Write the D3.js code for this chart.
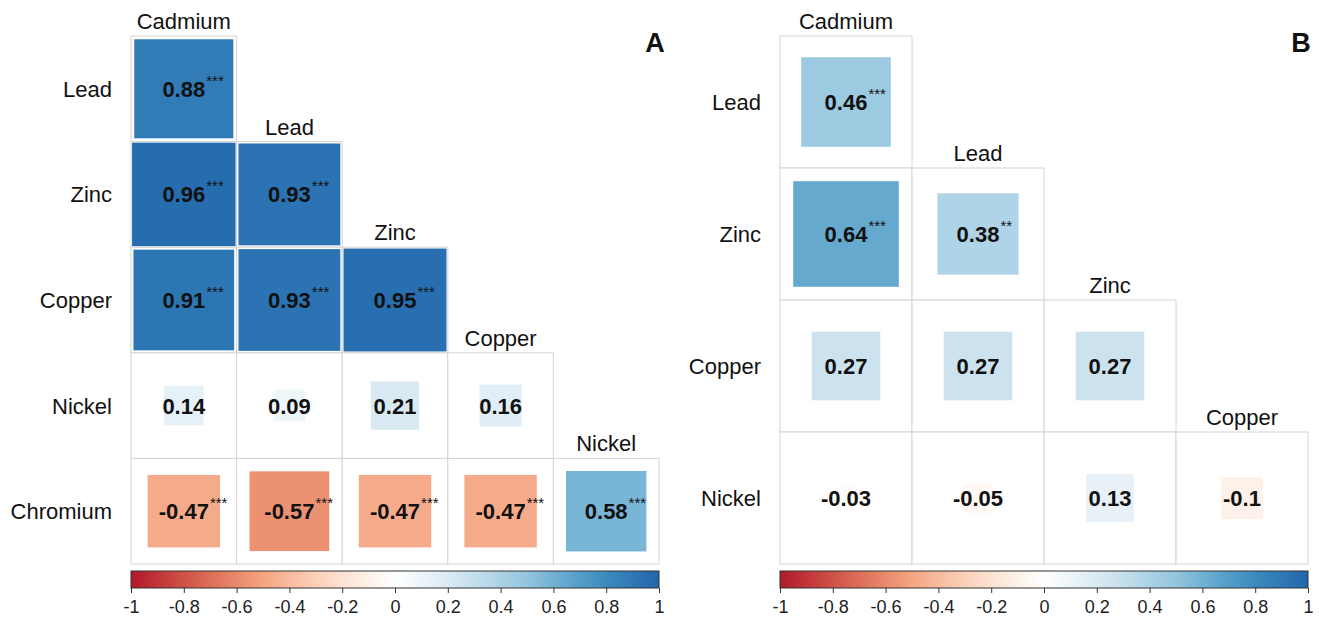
<!DOCTYPE html>
<html>
<head>
<meta charset="utf-8">
<script src="https://cdn.jsdelivr.net/npm/d3@7"></script>
<style>
  body { margin: 0; background: #fff; }
  svg { display: block; font-family: "Liberation Sans", Arial, sans-serif; }
</style>
</head>
<body>
<svg width="1319" height="620"></svg>
<script>
// panel A: lower triangle of the correlation matrix
var rowsA = ["Lead", "Zinc", "Copper", "Nickel", "Chromium"];
var colsA = ["Cadmium", "Lead", "Zinc", "Copper", "Nickel"];
var valuesA = [
  [0.88],
  [0.96, 0.93],
  [0.91, 0.93, 0.95],
  [0.14, 0.09, 0.21, 0.16],
  [-0.47, -0.57, -0.47, -0.47, 0.58]
];
var starsA = [
  ["***"],
  ["***", "***"],
  ["***", "***", "***"],
  ["", "", "", ""],
  ["***", "***", "***", "***", "***"]
];

// panel B
var rowsB = ["Lead", "Zinc", "Copper", "Nickel"];
var colsB = ["Cadmium", "Lead", "Zinc", "Copper"];
var valuesB = [
  [0.46],
  [0.64, 0.38],
  [0.27, 0.27, 0.27],
  [-0.03, -0.05, 0.13, -0.1]
];
var starsB = [
  ["***"],
  ["***", "**"],
  ["", "", ""],
  ["", "", "", ""]
];

var colorTicks = [-1, -0.8, -0.6, -0.4, -0.2, 0, 0.2, 0.4, 0.6, 0.8, 1];

var svg = d3.select("svg");
var defs = svg.append("defs");

var color = d3.scaleLinear()
  .domain([-1, -0.75, -0.5, -0.25, 0, 0.25, 0.5, 0.75, 1])
  .range(["#B2182B", "#D6604D", "#F4A582", "#FDDBC7", "#FFFFFF",
          "#D1E5F0", "#92C5DE", "#4393C3", "#2166AC"])
  .interpolate(d3.interpolateRgb);

// gradient for the colour bars
var grad = defs.append("linearGradient").attr("id", "cbar");
d3.range(0, 1.0001, 0.05).forEach(function(t) {
  grad.append("stop")
    .attr("offset", (t * 100) + "%")
    .attr("stop-color", color(-1 + 2 * t));
});

function drawPanel(left, top, width, rows, cols, values, stars, letter, letterX) {
  var g = svg.append("g");

  var x = d3.scaleBand().domain(cols).range([left, left + width]);
  var y = d3.scaleBand().domain(d3.range(rows.length)).range([top, top + width * rows.length / cols.length]);
  var bw = x.bandwidth();

  var cells = [];
  values.forEach(function(row, i) {
    row.forEach(function(v, j) {
      cells.push({ i: i, j: j, v: v, s: stars[i][j] });
    });
  });

  // grid cells
  g.selectAll(".cell")
    .data(cells)
    .enter().append("rect")
    .attr("x", function(d) { return x(cols[d.j]); })
    .attr("y", function(d) { return y(d.i); })
    .attr("width", bw)
    .attr("height", bw)
    .attr("fill", "#fff")
    .attr("stroke", "#d4d4d4")
    .attr("stroke-width", 1);

  // squares, area proportional to |r|
  g.selectAll(".sq")
    .data(cells)
    .enter().append("rect")
    .attr("x", function(d) { return x(cols[d.j]) + bw / 2 - bw * Math.sqrt(Math.abs(d.v)) / 2; })
    .attr("y", function(d) { return y(d.i) + bw / 2 - bw * Math.sqrt(Math.abs(d.v)) / 2; })
    .attr("width", function(d) { return bw * Math.sqrt(Math.abs(d.v)); })
    .attr("height", function(d) { return bw * Math.sqrt(Math.abs(d.v)); })
    .attr("fill", function(d) { return color(d.v); });

  // values
  g.selectAll(".val")
    .data(cells)
    .enter().append("text")
    .attr("x", function(d) { return x(cols[d.j]) + bw / 2; })
    .attr("y", function(d) { return y(d.i) + bw / 2 + 8; })
    .attr("text-anchor", "middle")
    .attr("font-size", 22)
    .attr("font-weight", "bold")
    .attr("fill", "#111")
    .text(function(d) { return String(d.v); })
    .each(function(d) { d.w = this.getComputedTextLength(); });

  g.selectAll(".star")
    .data(cells.filter(function(d) { return d.s; }))
    .enter().append("text")
    .attr("x", function(d) { return x(cols[d.j]) + bw / 2 + d.w / 2 + 1; })
    .attr("y", function(d) { return y(d.i) + bw / 2 - 3; })
    .attr("font-size", 15)
    .attr("fill", "#111")
    .text(function(d) { return d.s; });

  // row labels
  g.selectAll(".rlab")
    .data(rows)
    .enter().append("text")
    .attr("x", left - 19)
    .attr("y", function(d, i) { return y(i) + bw / 2 + 8; })
    .attr("text-anchor", "end")
    .attr("font-size", 22)
    .attr("fill", "#111")
    .text(function(d) { return d; });

  // column labels, above the diagonal cell
  g.selectAll(".clab")
    .data(cols)
    .enter().append("text")
    .attr("x", function(d) { return x(d) + bw / 2; })
    .attr("y", function(d, j) { return y(j) - 7; })
    .attr("text-anchor", "middle")
    .attr("font-size", 22)
    .attr("fill", "#111")
    .text(function(d) { return d; });

  // colour bar
  var cb = d3.scaleLinear().domain([-1, 1]).range([left, left + width]);
  var barTop = 571, barH = 17;
  g.append("rect")
    .attr("x", left)
    .attr("y", barTop)
    .attr("width", width)
    .attr("height", barH)
    .attr("fill", "url(#cbar)")
    .attr("stroke", "#333")
    .attr("stroke-width", 1);

  var ax = g.append("g")
    .attr("transform", "translate(0," + (barTop + barH) + ")")
    .call(d3.axisBottom(cb)
      .tickValues(colorTicks)
      .tickSize(5)
      .tickPadding(7)
      .tickFormat(function(d) { return String(+d.toFixed(1)); }));
  ax.select(".domain").remove();
  ax.selectAll("line").attr("stroke", "#333");
  ax.selectAll("text")
    .attr("font-size", 18)
    .attr("font-family", "'Liberation Sans', Arial, sans-serif")
    .attr("fill", "#222");

  svg.append("text")
    .attr("x", letterX)
    .attr("y", 52)
    .attr("text-anchor", "middle")
    .attr("font-size", 27)
    .attr("font-weight", "bold")
    .attr("fill", "#111")
    .text(letter);
}

drawPanel(131, 36, 528, rowsA, colsA, valuesA, starsA, "A", 655);
drawPanel(780, 36, 528, rowsB, colsB, valuesB, starsB, "B", 1301);
</script>
</body>
</html>
